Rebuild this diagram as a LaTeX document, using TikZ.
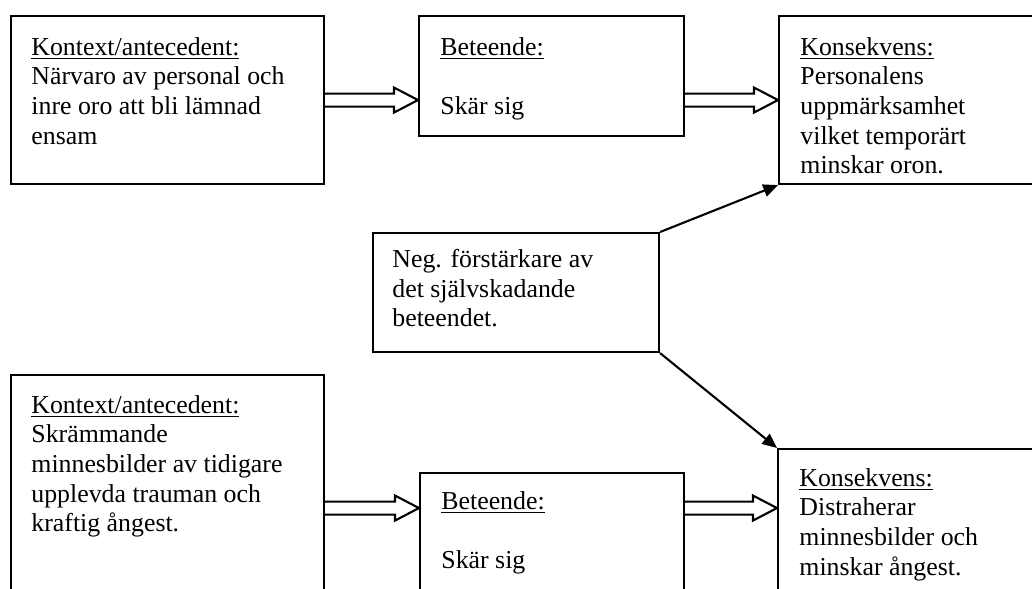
\documentclass[tikz,border=0pt]{standalone}
\usepackage{fontspec}
\setmainfont{Liberation Serif}
\usetikzlibrary{calc,arrows.meta}

\tikzset{
  box/.style={draw,line width=1pt,inner sep=0pt,anchor=north west},
  boxsize/.style 2 args={minimum width=#1*0.4762pt,minimum height=#2*0.4762pt},
  txt/.style={anchor=north west,inner sep=0pt,align=left,font=\fontsize{12.3}{14.1}\selectfont},
  dbl/.style={line width=1pt},
  push/.style={line width=1pt,-{Triangle[length=7pt,width=6pt]}}
}

\newcommand{\dblarrow}[2]{%
  \draw[dbl] ($(#1)+(0,-6.5)$) -- ($(#2)+(-24,-6.5)$) -- ($(#2)+(-24,-12.5)$) -- (#2)
    -- ($(#2)+(-24,12.5)$) -- ($(#2)+(-24,6.5)$) -- ($(#1)+(0,6.5)$);}

\begin{document}
\begin{tikzpicture}[x=0.4762pt,y=-0.4762pt]

\useasboundingbox (0,0) rectangle (1032,588);
\fill[white] (0,0) rectangle (1032,588);
\clip (0,0) rectangle (1032,588);

\node[box,boxsize={313}{168}] (ctx1) at (10,15) {};
\node[box,boxsize={265}{120}] (beh1) at (418,15) {};
\node[box,boxsize={270}{168}] (cons1) at (778,15) {};
\node[box,boxsize={286}{119}] (neg) at (372,232) {};
\node[box,boxsize={313}{266}] (ctx2) at (10,374) {};
\node[box,boxsize={264}{148}] (beh2) at (419,472) {};
\node[box,boxsize={271}{172}] (cons2) at (777,448) {};

\node[txt] (ctx1t) at ($(ctx1.north west)+(21,22)$) {\underline{Kontext/antecedent:}\\Närvaro av personal och\\inre oro att bli lämnad\\ensam};
\node[txt] (beh1t) at ($(beh1.north west)+(22,22)$) {\underline{Beteende:}\\[14.1pt]Skär sig};
\node[txt] (cons1t) at ($(cons1.north west)+(22,22)$) {\underline{Konsekvens:}\\Personalens\\uppmärksamhet\\vilket temporärt\\minskar oron.};
\node[txt] (negt) at ($(neg.north west)+(20,17)$) {Neg. förstärkare av\\det självskadande\\beteendet.};
\node[txt] (ctx2t) at ($(ctx2.north west)+(21,21)$) {\underline{Kontext/antecedent:}\\Skrämmande\\minnesbilder av tidigare\\upplevda trauman och\\kraftig ångest.};
\node[txt] (beh2t) at ($(beh2.north west)+(22,19)$) {\underline{Beteende:}\\[14.1pt]Skär sig};
\node[txt] (cons2t) at ($(cons2.north west)+(22,20)$) {\underline{Konsekvens:}\\Distraherar\\minnesbilder och\\minskar ångest.};

\coordinate (t1) at (ctx1.east -| beh1.west);
\coordinate (s2) at (ctx1.east -| beh1.east);
\coordinate (t2) at (ctx1.east -| cons1.west);
\coordinate (t3) at (ctx2.east -| beh2.west);
\coordinate (s4) at (ctx2.east -| beh2.east);
\coordinate (t4) at (ctx2.east -| cons2.west);

\dblarrow{ctx1.east}{t1}
\dblarrow{s2}{t2}
\dblarrow{ctx2.east}{t3}
\dblarrow{s4}{t4}

\draw[push] (neg.north east) -- (cons1.south west);
\draw[push] (neg.south east) -- (cons2.north west);

\end{tikzpicture}
\end{document}
